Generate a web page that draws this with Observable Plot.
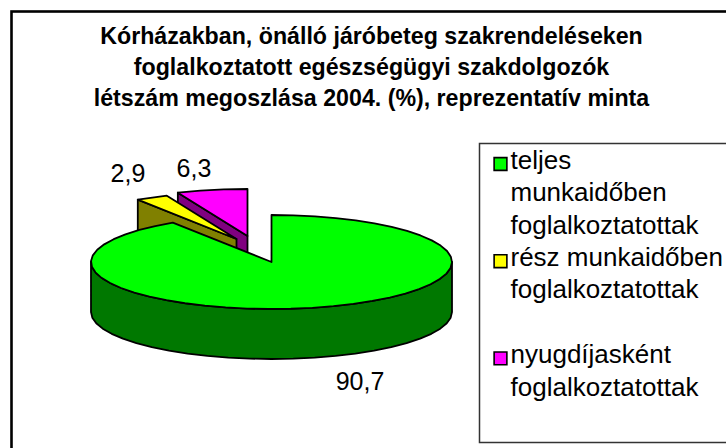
<!DOCTYPE html>
<html><head><meta charset="utf-8">
<script src="https://cdn.jsdelivr.net/npm/d3@7"></script>
<script src="https://cdn.jsdelivr.net/npm/@observablehq/plot@0.6"></script>
<style>html,body{margin:0;padding:0;background:#fff}svg{display:block}</style>
</head><body><div id="c"></div>
<script>
const categories = ["teljes\nmunkaidőben\nfoglalkoztatottak", "rész munkaidőben\nfoglalkoztatottak", "nyugdíjasként\nfoglalkoztatottak"];
const values = [90.7, 2.9, 6.3];
const topColors = ["#00ff00", "#ffff00", "#ff00ff"];
const sideColors = ["#007800", "#808000", "#800080"];
const titleLines = ["Kórházakban, önálló járóbeteg szakrendeléseken", "foglalkoztatott egészségügyi szakdolgozók", "létszám megoszlása 2004. (%), reprezentatív minta"];

// layout of the projected pie
const W = 726, H = 448;
const cx = 271, cy = 261.5, rx = 180.5, ry = 47, depth = 50, stepDeg = 7;
const explode = [[0, 0], [-35, -23], [-24, -26]];
const labelShift = [[37, 25], [-24, -23], [-18, -21]];
const rowH = 32.4, legendTop = 160;
const legendRows = [0, 3, 6];

const total = d3.sum(values);
let cum = 0;
const slices = values.map((v, i) => {
  const a0 = cum / total * 2 * Math.PI; cum += v;
  const a1 = cum / total * 2 * Math.PI;
  return {i, a0, a1, cx: cx + explode[i][0], cy: cy + explode[i][1]};
});
const pt = (s, a, d = 0) => [s.cx + rx * Math.sin(a), s.cy - ry * Math.cos(a) + d];
const arc = (s, a0, a1, d = 0) => {
  const n = Math.max(1, Math.round((a1 - a0) * 180 / Math.PI / stepDeg));
  return d3.range(n + 1).map(k => pt(s, a0 + (a1 - a0) * k / n, d));
};
const rows = [];
const add = (part, fill, pts) => [...pts, pts[0]].forEach(p => rows.push({part, fill, x: p[0], y: p[1]}));

// back slices first, so that the big slice lies over them
[slices[2], slices[1]].forEach(s => {
  add("face" + s.i, sideColors[s.i], [pt(s, s.a0), [s.cx, s.cy], [s.cx, s.cy + depth], pt(s, s.a0, depth)]);
  add("top" + s.i, topColors[s.i], [[s.cx, s.cy], ...arc(s, s.a0, s.a1)]);
});
const g = slices[0];
add("wall", sideColors[0], [...arc(g, Math.PI / 2, 3 * Math.PI / 2), ...arc(g, Math.PI / 2, 3 * Math.PI / 2, depth).reverse()]);
add("top0", topColors[0], [[g.cx, g.cy], ...arc(g, g.a0, g.a1)]);

const labels = slices.map(s => {
  const m = (s.a0 + s.a1) / 2, p = pt(s, m, s.i === 0 ? depth : 0);
  return {text: String(values[s.i]).replace(".", ","), x: p[0] + labelShift[s.i][0], y: p[1] + labelShift[s.i][1]};
});
const swatches = legendRows.map((r, i) => ({x: 500, y: legendTop + 3.5 + r * rowH, fill: topColors[i]}));
const legendText = categories.join("\n").split("\n");
legendText.splice(5, 0, "");

const font = "'Liberation Sans', Arial, sans-serif";
const plot = Plot.plot({
  width: W, height: H, margin: 0,
  x: {domain: [0, W], range: [0, W], axis: null},
  y: {domain: [0, H], range: [0, H], axis: null},
  style: {fontFamily: font, background: "#fff"},
  marks: [
    Plot.frame({stroke: "#000", strokeWidth: 2.6, insetTop: 11, insetLeft: 11, insetRight: -10, insetBottom: -10}),
    Plot.rect([{x1: 479.5, x2: W + 10, y1: 143.5, y2: 442.5}], {x1: "x1", x2: "x2", y1: "y1", y2: "y2", fill: "#fff", stroke: "#333", strokeWidth: 1.5}),
    Plot.line(rows, {x: "x", y: "y", z: "part", fill: "fill", stroke: "#000", strokeWidth: 1.8, strokeLinejoin: "round"}),
    Plot.text(labels, {x: "x", y: "y", text: "text", fontSize: 25, fill: "#000", textAnchor: "middle"}),
    Plot.text([titleLines.join("\n")], {frameAnchor: "top", dx: 8, dy: 22, text: d => d, fontSize: 23.2, fontWeight: "bold", lineHeight: 1.33, fill: "#000", textAnchor: "middle", lineAnchor: "top"}),
    Plot.dot(swatches, {x: "x", y: "y", symbol: "square", r: 7.2, fill: "fill", stroke: "#000", strokeWidth: 1.6}),
    Plot.text(legendText, {x: () => 510, y: (d, i) => legendTop + i * rowH, text: d => d, fontSize: 26, textAnchor: "start", fill: "#000"})
  ]
});
document.getElementById("c").appendChild(plot);
</script></body></html>
